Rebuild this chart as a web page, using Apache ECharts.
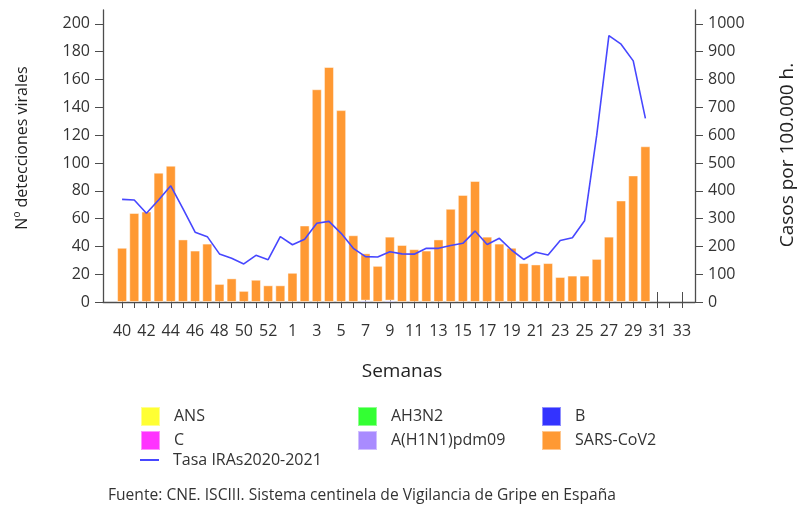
<!DOCTYPE html>
<html>
<head>
<meta charset="utf-8">
<script src="https://cdn.jsdelivr.net/npm/echarts@6/dist/echarts.min.js"></script>
<style>
  html, body { margin: 0; padding: 0; background: #fff; }
  #chart { width: 798px; height: 506px; }
</style>
</head>
<body>
<div id="chart"></div>
<script>
// semanas epidemiológicas 40/2020 .. 33/2021
let weeks = ['40', '41', '42', '43', '44', '45', '46', '47', '48', '49', '50', '51', '52', '53',
    '1', '2', '3', '4', '5', '6', '7', '8', '9', '10', '11', '12', '13', '14', '15', '16', '17',
    '18', '19', '20', '21', '22', '23', '24', '25', '26', '27', '28', '29', '30', '31', '32', '33']

// detecciones virales (eje izquierdo)
let sarsCov2 = [39, 64, 65, 93, 98, 45, 37, 42, 13, 17, 8, 16, 12, 12,
    21, 55, 153, 169, 138, 48, 34, 26, 46, 41, 38, 37, 45, 67, 77, 87, 47,
    42, 39, 28, 27, 28, 18, 19, 19, 31, 47, 73, 91, 112, null, null, null]
let virusB = [null, null, null, null, null, null, null, null, null, null, null, null, null, null,
    null, null, null, null, null, null, 1, null, 1, null, null, null, null, null, null, null, null,
    null, null, null, null, null, null, null, null, null, null, null, null, null, null, null, null]
let ans = []
let ah3n2 = []
let virusC = []
let h1n1 = []

// tasa IRAs por 100.000 h. (eje derecho)
let tasaIRAs = [369, 367, 319, 367, 418, 336, 251, 235, 173, 157, 137, 168, 152, 235,
    206, 226, 283, 290, 247, 193, 163, 162, 181, 173, 172, 193, 193, 203, 211, 255, 207,
    229, 187, 153, 179, 169, 221, 231, 292, 600, 958, 927, 867, 660, null, null, null]

// marcas de los ejes
let leftTicks = [0, 20, 40, 60, 80, 100, 120, 140, 160, 180, 200]
let rightTicks = [0, 100, 200, 300, 400, 500, 600, 700, 800, 900, 1000]

let font = 'Open Sans'
let axisColor = '#4d4d4d'
let textColor = '#333333'
let lineColor = '#4747FF'

let myChart = echarts.init(document.getElementById('chart'), null, { renderer: 'canvas' })

function barSeries (name, data, color) {
    return {
        name: name,
        type: 'bar',
        stack: 'virus',
        xAxisIndex: 1,
        yAxisIndex: 2,
        barWidth: 10,
        itemStyle: {
            color: color,
            borderColor: 'rgba(255,255,255,0.45)',
            borderWidth: 1
        },
        data: data
    }
}

function legendBlock (left, top, names, itemHeight) {
    return {
        orient: 'vertical',
        left: left,
        top: top,
        padding: 0,
        itemWidth: 19,
        itemHeight: itemHeight,
        itemGap: 3,
        icon: 'rect',
        textStyle: { fontFamily: font, fontSize: 16, color: textColor, padding: [0, 0, 0, 9] },
        data: names
    }
}

let option = {
    animation: false,
    textStyle: { fontFamily: font },
    title: {
        text: 'Fuente: CNE. ISCIII. Sistema centinela de Vigilancia de Gripe en España',
        left: 108,
        top: 488,
        padding: 0,
        textStyle: { fontFamily: font, fontSize: 15.6, fontWeight: 'normal', color: textColor }
    },
    legend: [
        legendBlock(140, 406, ['ANS', 'C'], 19),
        legendBlock(140, 452, ['Tasa IRAs2020-2021'], 2),
        legendBlock(357, 406, ['AH3N2', 'A(H1N1)pdm09'], 19),
        legendBlock(541, 406, ['B', 'SARS-CoV2'], 19)
    ],
    graphic: [
        {
            type: 'text',
            x: 22,
            y: 148,
            rotation: Math.PI / 2,
            style: {
                text: 'Nº detecciones virales',
                font: '16px "Open Sans"',
                fill: '#222',
                align: 'center',
                verticalAlign: 'middle'
            }
        },
        {
            type: 'text',
            x: 788,
            y: 155,
            rotation: Math.PI / 2,
            style: {
                text: 'Casos por 100.000 h.',
                font: '19px "Open Sans"',
                fill: '#222',
                align: 'center',
                verticalAlign: 'middle'
            }
        }
    ],
    grid: [
        // marco con los ejes
        { left: 103, right: 103, top: 10, bottom: 204 },
        // zona de barras
        { left: 116, right: 110, top: 10, bottom: 204 }
    ],
    xAxis: [
        {
            type: 'category',
            gridIndex: 0,
            data: [],
            axisLine: { lineStyle: { color: axisColor, width: 1.3 } },
            axisTick: { show: false },
            axisLabel: { show: false }
        },
        {
            type: 'category',
            gridIndex: 1,
            data: weeks,
            name: 'Semanas',
            nameLocation: 'middle',
            nameGap: 60,
            nameTextStyle: { fontFamily: font, fontSize: 19, color: '#222' },
            axisLine: { show: false },
            axisTick: { show: true, alignWithLabel: true, interval: 0, length: 6, lineStyle: { color: axisColor } },
            axisLabel: { interval: 1, margin: 21, fontFamily: font, fontSize: 16, color: textColor }
        },
        {
            type: 'category',
            gridIndex: 1,
            data: weeks,
            axisLine: { show: false },
            axisTick: { show: true, alignWithLabel: true, interval: 1, length: 10, lineStyle: { color: axisColor } },
            axisLabel: { show: false }
        }
    ],
    yAxis: [
        {
            type: 'value',
            gridIndex: 0,
            min: 0,
            max: 210,
            splitLine: { show: false },
            axisLine: { show: true, lineStyle: { color: axisColor, width: 1.3 } },
            axisTick: { show: true, length: 8, customValues: leftTicks, lineStyle: { color: axisColor } },
            axisLabel: {
                margin: 13,
                customValues: leftTicks,
                formatter: function (v) { return String(v) },
                fontFamily: font,
                fontSize: 16,
                color: textColor
            }
        },
        {
            type: 'value',
            gridIndex: 0,
            position: 'right',
            min: 0,
            max: 1050,
            splitLine: { show: false },
            axisLine: { show: true, lineStyle: { color: axisColor, width: 1.3 } },
            axisTick: { show: true, length: 8, customValues: rightTicks, lineStyle: { color: axisColor } },
            axisLabel: {
                margin: 13,
                customValues: rightTicks,
                formatter: function (v) { return String(v) },
                fontFamily: font,
                fontSize: 16,
                color: textColor
            }
        },
        { type: 'value', gridIndex: 1, min: 0, max: 210, show: false, splitLine: { show: false } },
        { type: 'value', gridIndex: 1, min: 0, max: 1050, show: false, splitLine: { show: false } }
    ],
    series: [
        barSeries('ANS', ans, '#FFFF33'),
        barSeries('AH3N2', ah3n2, '#33FF33'),
        barSeries('B', virusB, '#3333FF'),
        barSeries('C', virusC, '#FF33FF'),
        barSeries('A(H1N1)pdm09', h1n1, '#A98BFF'),
        barSeries('SARS-CoV2', sarsCov2, '#FF9933'),
        {
            name: 'Tasa IRAs2020-2021',
            type: 'line',
            xAxisIndex: 1,
            yAxisIndex: 3,
            symbol: 'none',
            lineStyle: { color: lineColor, width: 1.6 },
            itemStyle: { color: lineColor },
            data: tasaIRAs
        }
    ]
}

myChart.setOption(option)
</script>
</body>
</html>
